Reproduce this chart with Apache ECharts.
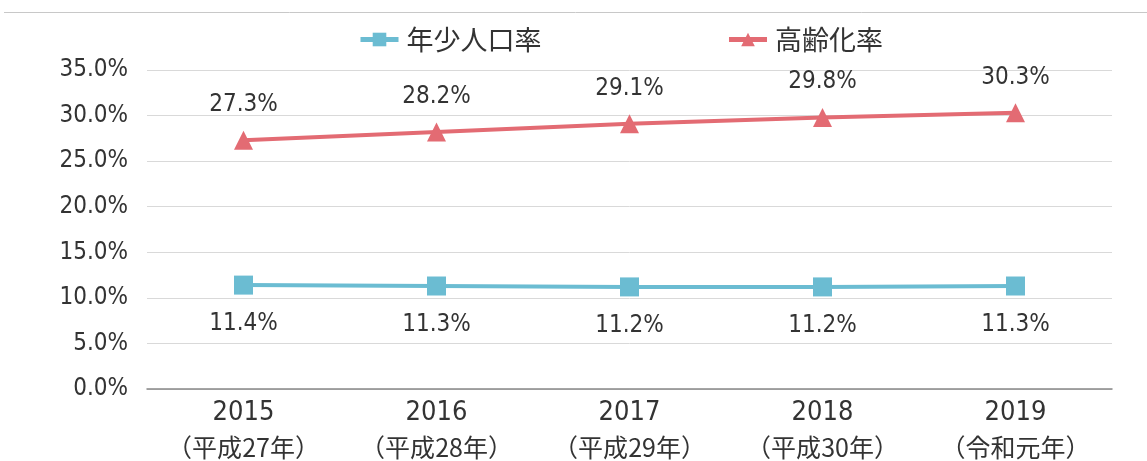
<!DOCTYPE html>
<html><head><meta charset="utf-8">
<script src="https://cdn.jsdelivr.net/npm/echarts@6/dist/echarts.min.js"></script>
<style>html,body{margin:0;padding:0;background:#fff}#c{width:1147px;height:461px}</style>
</head><body><div id="c"></div>
<script>
const categories = ['2015\n（平成27年）','2016\n（平成28年）','2017\n（平成29年）','2018\n（平成30年）','2019\n（令和元年）'];
const youthRate = [11.4, 11.3, 11.2, 11.2, 11.3];
const elderlyRate = [27.3, 28.2, 29.1, 29.8, 30.3];
const seriesNames = ['年少人口率', '高齢化率'];
const NARROW = '"Liberation Sans Narrow","DejaVu Sans Condensed","Noto Sans CJK JP",sans-serif';
const CJK = '"Noto Sans CJK JP",sans-serif';
const CYAN = '#6bbcd2', RED = '#e36b73';
const chart = echarts.init(document.getElementById('c'));
chart.setOption({
  animation: false,
  textStyle: { fontFamily: NARROW },
  graphic: [{ type: 'line', shape: { x1: 4, y1: 12.5, x2: 1147, y2: 12.5 }, style: { stroke: '#c8c8c8', lineWidth: 1 } }],
  legend: {
    top: 21, left: 353, itemWidth: 38, itemHeight: 17, itemGap: 185,
    lineStyle: { width: 5 },
    textStyle: { fontSize: 27, color: '#333', fontFamily: CJK, padding: [0, 0, 0, 3] },
    data: seriesNames
  },
  grid: { left: 147, right: 35, top: 70, bottom: 72 },
  xAxis: {
    type: 'category', data: categories, boundaryGap: true,
    axisLine: { lineStyle: { color: '#888', width: 1.5 } },
    axisTick: { show: false },
    axisLabel: {
      margin: 7, color: '#333',
      formatter: v => { const p = v.split('\n'); return '{a|' + p[0] + '}\n{b|' + p[1] + '}'; },
      rich: {
        a: { fontSize: 27, lineHeight: 34, fontFamily: NARROW, color: '#333' },
        b: { fontSize: 25, lineHeight: 34, fontFamily: CJK, color: '#333' }
      }
    }
  },
  yAxis: {
    type: 'value', min: 0, max: 35, interval: 5,
    axisLine: { show: false }, axisTick: { show: false },
    splitLine: { lineStyle: { color: '#d9d9d9', width: 1 } },
    axisLabel: { fontSize: 24, color: '#333', margin: 19, fontFamily: NARROW, formatter: v => v.toFixed(1) + '%' }
  },
  series: [
    {
      name: seriesNames[0], type: 'line', data: youthRate,
      symbol: 'rect', symbolSize: 19,
      lineStyle: { color: CYAN, width: 4 }, itemStyle: { color: CYAN },
      label: { show: true, position: 'bottom', distance: 17, fontSize: 24, color: '#333', fontFamily: NARROW, formatter: p => p.value.toFixed(1) + '%' }
    },
    {
      name: seriesNames[1], type: 'line', data: elderlyRate,
      symbol: 'triangle', symbolSize: 19,
      lineStyle: { color: RED, width: 4 }, itemStyle: { color: RED },
      label: { show: true, position: 'top', distance: 14, fontSize: 24, color: '#333', fontFamily: NARROW, formatter: p => p.value.toFixed(1) + '%' }
    }
  ]
});
</script></body></html>
